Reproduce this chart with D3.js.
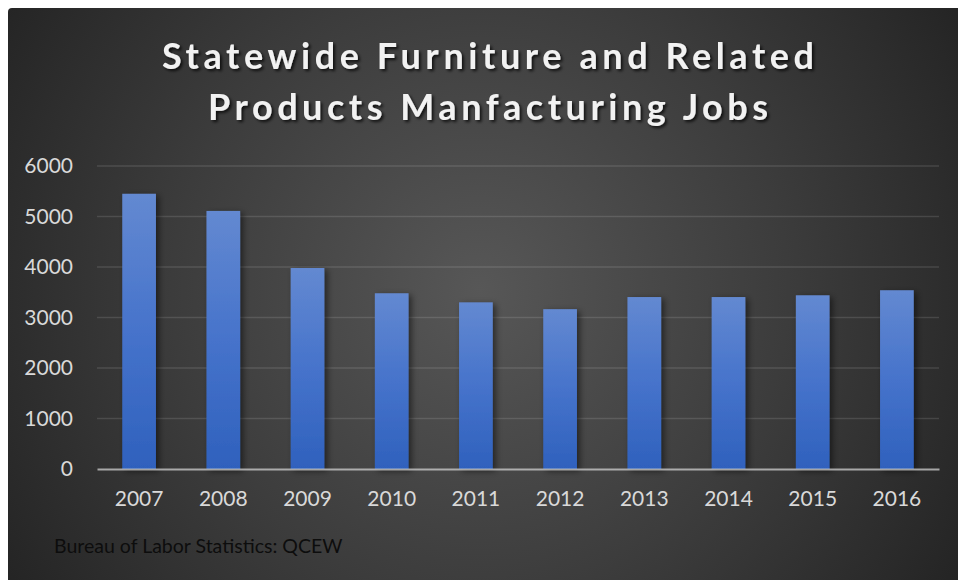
<!DOCTYPE html>
<html>
<head>
<meta charset="utf-8">
<script src="https://cdn.jsdelivr.net/npm/d3@7"></script>
<style>
  html, body { margin: 0; padding: 0; background: #ffffff; }
  svg { display: block; }
</style>
</head>
<body>
<svg id="chart" width="958" height="580"></svg>
<script>
// Furniture and related products manufacturing jobs, statewide
const years = ["2007", "2008", "2009", "2010", "2011", "2012", "2013", "2014", "2015", "2016"];
const jobs = [5450, 5110, 3980, 3480, 3300, 3165, 3405, 3405, 3440, 3540];
const yTicks = [0, 1000, 2000, 3000, 4000, 5000, 6000];
const titleLines = ["Statewide Furniture and Related", "Products Manfacturing Jobs"];
const sourceNote = "Bureau of Labor Statistics: QCEW";

const W = 958, H = 580;
const margin = { left: 97, right: 19, top: 166, bottom: 111 };
const svg = d3.select("#chart");
const defs = svg.append("defs");

// panel background: soft radial glow on a dark field
const bg = defs.append("radialGradient")
  .attr("id", "panelGlow")
  .attr("gradientUnits", "userSpaceOnUse")
  .attr("cx", 480).attr("cy", 290).attr("r", 560);
bg.append("stop").attr("offset", "0").attr("stop-color", "#575757");
bg.append("stop").attr("offset", "0.55").attr("stop-color", "#3c3c3c");
bg.append("stop").attr("offset", "1").attr("stop-color", "#242424");

// bar fill: lighter blue at the top, deeper blue at the base
const barGrad = defs.append("linearGradient")
  .attr("id", "barFill").attr("x1", 0).attr("y1", 0).attr("x2", 0).attr("y2", 1);
barGrad.append("stop").attr("offset", "0").attr("stop-color", "#6389d1");
barGrad.append("stop").attr("offset", "0.5").attr("stop-color", "#4673cb");
barGrad.append("stop").attr("offset", "1").attr("stop-color", "#2f61bd");

const barShadow = defs.append("filter").attr("id", "barShadow")
  .attr("x", "-30%").attr("y", "-10%").attr("width", "160%").attr("height", "130%");
barShadow.append("feDropShadow")
  .attr("dx", 3).attr("dy", 2).attr("stdDeviation", 3)
  .attr("flood-color", "#000").attr("flood-opacity", 0.5);

const titleShadow = defs.append("filter").attr("id", "titleShadow")
  .attr("x", "-10%").attr("y", "-30%").attr("width", "120%").attr("height", "160%");
titleShadow.append("feDropShadow")
  .attr("dx", 2).attr("dy", 2).attr("stdDeviation", 1.6)
  .attr("flood-color", "#000").attr("flood-opacity", 0.75);

svg.append("rect")
  .attr("x", 8).attr("y", 8)
  .attr("width", W).attr("height", H)
  .attr("rx", 4)
  .attr("fill", "url(#panelGlow)");

const x = d3.scaleBand()
  .domain(years)
  .range([margin.left, W - margin.right])
  .paddingInner(0.6)
  .paddingOuter(0.3);

const y = d3.scaleLinear()
  .domain([0, 6000])
  .range([H - margin.bottom, margin.top]);

// horizontal gridlines
svg.append("g")
  .selectAll("line")
  .data(yTicks.filter(d => d > 0))
  .join("line")
  .attr("x1", margin.left).attr("x2", W - margin.right)
  .attr("y1", d => y(d)).attr("y2", d => y(d))
  .attr("stroke", "#ffffff").attr("stroke-opacity", 0.12).attr("stroke-width", 1.5);

// y-axis labels
const yAxis = svg.append("g")
  .attr("transform", `translate(${margin.left},0)`)
  .call(d3.axisLeft(y).tickValues(yTicks).tickSize(0).tickPadding(24).tickFormat(d3.format("d")));
yAxis.select(".domain").remove();
yAxis.selectAll("text")
  .attr("fill", "#d9d9d9")
  .attr("font-family", "Lato, 'Open Sans', sans-serif")
  .attr("font-size", 21);

// bars
svg.append("g")
  .selectAll("rect")
  .data(years.map((yr, i) => ({ yr, v: jobs[i] })))
  .join("rect")
  .attr("x", d => x(d.yr))
  .attr("y", d => y(d.v))
  .attr("width", x.bandwidth())
  .attr("height", d => y(0) - y(d.v))
  .attr("fill", "url(#barFill)")
  .attr("filter", "url(#barShadow)");

// category axis
const xAxis = svg.append("g")
  .attr("transform", `translate(0,${y(0)})`)
  .call(d3.axisBottom(x).tickSize(0).tickPadding(22));
xAxis.select(".domain")
  .attr("stroke", "#d0d0d0").attr("stroke-opacity", 0.75).attr("stroke-width", 2.2);
xAxis.selectAll("text")
  .attr("fill", "#d9d9d9")
  .attr("font-family", "Lato, 'Open Sans', sans-serif")
  .attr("font-size", 21);

// title
const titleWidths = [652, 560];
svg.append("g")
  .attr("filter", "url(#titleShadow)")
  .selectAll("text")
  .data(titleLines)
  .join("text")
  .attr("x", 488)
  .attr("y", (d, i) => 69 + i * 51)
  .attr("text-anchor", "middle")
  .attr("fill", "#f2f2f2")
  .attr("font-family", "Lato, 'Open Sans', sans-serif")
  .attr("font-weight", 700)
  .attr("font-size", 36)
  .attr("textLength", (d, i) => titleWidths[i])
  .attr("lengthAdjust", "spacing")
  .text(d => d);

// source note
svg.append("text")
  .attr("x", 54).attr("y", 553)
  .attr("fill", "#0d0d0d")
  .attr("font-family", "Lato, 'Open Sans', sans-serif")
  .attr("font-size", 19.5)
  .text(sourceNote);
</script>
</body>
</html>
